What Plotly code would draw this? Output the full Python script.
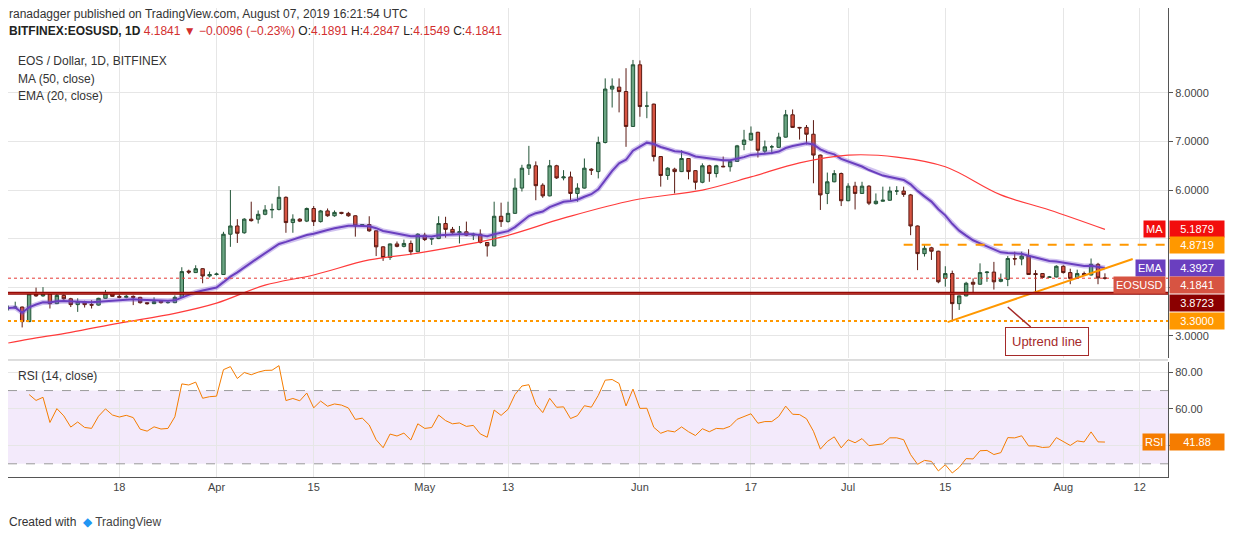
import plotly.graph_objects as go
import pandas as pd
import numpy as np

dates = pd.date_range("2019-03-02", periods=159, freq="D")
opens = [3.56,3.58,3.59,3.29,3.86,3.82,3.86,3.66,3.83,3.76,
3.64,3.70,3.64,3.63,3.77,3.87,3.81,3.79,3.81,3.79,
3.68,3.66,3.72,3.68,3.68,3.79,4.33,4.30,4.38,4.23,
4.26,4.26,5.09,5.26,5.12,5.40,5.40,5.50,5.59,5.60,
5.85,5.33,5.40,5.36,5.62,5.35,5.57,5.47,5.54,5.52,
5.47,5.26,5.29,5.16,4.83,4.61,4.89,4.84,4.90,4.73,
5.07,4.99,5.00,5.31,5.19,5.12,5.14,5.07,5.09,4.92,
4.85,5.46,5.35,5.52,6.04,6.45,6.50,6.10,5.88,6.50,
6.25,6.27,5.93,6.04,6.43,6.38,6.98,8.08,8.12,8.03,
7.31,8.58,7.73,7.77,6.69,6.30,6.43,6.38,6.65,6.40,
6.16,6.50,6.34,6.49,6.48,6.59,6.94,7.03,7.19,6.80,
6.89,6.88,7.09,7.55,7.29,7.29,7.15,6.72,5.93,6.17,
6.34,5.78,6.08,5.93,6.08,5.72,5.77,5.79,5.98,5.98,
5.90,5.26,4.69,4.81,4.74,4.18,4.28,3.66,3.82,4.10,
4.06,4.30,4.31,4.12,4.16,4.59,4.58,4.64,4.28,4.28,
4.20,4.21,4.43,4.30,4.19,4.28,4.25,4.47,4.1891]
closes = [3.57,3.59,3.29,3.86,3.82,3.86,3.66,3.83,3.76,3.64,
3.70,3.64,3.63,3.77,3.87,3.81,3.79,3.81,3.79,3.68,
3.66,3.70,3.68,3.685,3.79,4.32,4.31,4.38,4.23,4.26,
4.27,5.09,5.26,5.11,5.40,5.37,5.50,5.59,5.60,5.85,
5.33,5.40,5.36,5.62,5.35,5.57,5.47,5.54,5.52,5.47,
5.26,5.29,5.16,4.83,4.61,4.89,4.84,4.90,4.73,5.09,
4.98,5.00,5.31,5.19,5.12,5.14,5.07,5.09,4.92,4.85,
5.46,5.35,5.52,6.04,6.45,6.52,6.09,5.88,6.50,6.25,
6.27,5.93,6.04,6.45,6.41,6.98,8.08,8.14,8.03,7.31,
8.58,7.72,7.73,6.69,6.30,6.45,6.38,6.65,6.38,6.16,
6.50,6.34,6.50,6.48,6.59,6.91,7.03,7.17,6.82,6.89,
6.89,7.09,7.55,7.29,7.28,7.15,6.72,5.90,6.17,6.34,
5.78,6.08,5.93,6.08,5.73,5.77,5.79,5.98,5.98,5.91,
5.26,4.69,4.80,4.74,4.11,4.28,3.66,3.82,4.08,4.06,
4.30,4.31,4.11,4.16,4.59,4.58,4.64,4.26,4.26,4.20,
4.21,4.43,4.30,4.18,4.28,4.25,4.47,4.19,4.1841]
highs = [3.62,3.70,3.60,3.87,3.99,4.00,3.87,3.88,3.85,3.78,
3.77,3.72,3.73,3.78,3.94,3.90,3.85,3.84,3.83,3.80,
3.69,3.79,3.73,3.71,3.83,4.41,4.36,4.45,4.39,4.32,
4.30,5.14,6.00,5.40,5.42,5.76,5.58,5.69,5.72,6.08,
5.87,5.50,5.42,5.64,5.67,5.59,5.62,5.58,5.55,5.55,
5.48,5.30,5.46,5.17,4.84,4.90,4.94,4.98,4.96,5.11,
5.12,5.02,5.46,5.45,5.24,5.26,5.35,5.12,5.19,4.93,
5.76,5.74,5.76,6.24,6.52,6.91,6.59,6.14,6.62,6.52,
6.41,6.38,6.14,6.65,6.45,7.10,8.30,8.30,8.30,8.51,
8.68,8.67,8.03,7.78,6.70,6.47,6.46,6.82,6.66,6.41,
6.55,6.52,6.52,6.69,6.61,6.93,7.24,7.31,7.20,7.02,
6.93,7.18,7.65,7.66,7.30,7.34,7.44,6.73,6.36,6.41,
6.36,6.14,6.17,6.17,6.10,5.93,6.07,6.07,6.08,6.07,
5.92,5.27,4.87,4.83,4.75,4.43,4.34,3.83,4.11,4.18,
4.49,4.33,4.52,4.28,4.64,4.73,4.73,4.78,4.35,4.29,
4.23,4.45,4.45,4.38,4.36,4.32,4.59,4.50,4.2847]
lows = [3.52,3.55,3.17,3.28,3.80,3.80,3.56,3.65,3.74,3.59,
3.49,3.58,3.56,3.62,3.76,3.80,3.77,3.77,3.63,3.66,
3.64,3.65,3.66,3.66,3.67,3.78,4.27,4.29,4.08,4.20,
4.24,4.25,4.83,4.91,5.10,5.35,5.31,5.48,5.42,5.58,
5.12,5.12,5.34,5.34,5.26,5.33,5.45,5.45,5.50,5.45,
5.04,5.24,5.14,4.64,4.54,4.56,4.82,4.82,4.66,4.72,
4.95,4.87,4.99,5.02,5.10,4.90,5.05,4.97,4.90,4.63,
4.84,5.24,5.33,5.51,5.97,6.31,5.79,5.84,5.87,6.23,
6.20,5.79,5.76,6.03,6.31,6.24,6.96,7.70,7.60,6.89,
7.30,7.51,7.48,6.59,6.07,6.21,5.93,6.37,6.22,6.01,
6.14,6.17,6.26,6.47,6.38,6.58,6.82,7.02,6.67,6.74,
6.74,6.87,7.08,7.28,7.04,6.94,6.14,5.59,5.71,6.16,
5.67,5.77,5.60,5.92,5.69,5.70,5.76,5.78,5.90,5.86,
5.07,4.35,4.63,4.56,4.08,4.01,3.32,3.53,3.81,3.87,
4.05,4.11,3.95,4.10,4.02,4.45,4.45,4.25,3.90,4.18,
4.19,4.20,4.28,4.06,4.17,4.23,4.24,4.06,4.1549]

ma_dates = ["2019-03-02","2019-03-05","2019-03-11","2019-03-18","2019-03-26","2019-04-01",
            "2019-04-08","2019-04-15","2019-04-23","2019-04-30","2019-05-12","2019-05-21",
            "2019-05-31","2019-06-10","2019-06-17","2019-06-24","2019-07-01","2019-07-08",
            "2019-07-15","2019-07-23","2019-07-30","2019-08-07"]
ma_vals = [2.85,2.93,3.07,3.26,3.46,3.67,4.04,4.25,4.56,4.70,5.03,5.42,
           5.79,6.00,6.27,6.56,6.72,6.68,6.48,5.90,5.59,5.19]

support_level = 3.8723
resistance_level = 4.8719
low_level = 3.30
trend_dates = ["2019-07-15 08:00", "2019-08-11 00:00"]
trend_vals = [3.28, 4.58]

xticks = ["2019-03-18","2019-04-01","2019-04-15","2019-05-01","2019-05-13","2019-06-01",
          "2019-06-17","2019-07-01","2019-07-15","2019-08-01","2019-08-12"]
xticktext = ["18","Apr","15","May","13","Jun","17","Jul","15","Aug","12"]

cs = pd.Series(closes)
ema = cs.ewm(span=20, adjust=True).mean()
d = cs.diff()
up = d.clip(lower=0).ewm(alpha=1/14, adjust=True).mean()
dn = (-d.clip(upper=0)).ewm(alpha=1/14, adjust=True).mean()
rsi = 100 - 100/(1 + up/dn)
rsi.iloc[:3] = np.nan

FONT = "Liberation Sans"
xr = ["2019-03-01 23:00", "2019-08-16 02:00"]
fig = go.Figure()
fig.add_trace(go.Scatter(x=dates, y=ema, mode="lines", line=dict(color="rgba(120,80,210,0.35)", width=5),
                         hoverinfo="skip", xaxis="x", yaxis="y"))
fig.add_trace(go.Scatter(x=dates, y=ema, mode="lines", line=dict(color="#6a3fbf", width=2),
                         xaxis="x", yaxis="y"))
fig.add_trace(go.Scatter(x=pd.to_datetime(ma_dates), y=ma_vals, mode="lines", line=dict(color="#ff3b3b", width=1.2, shape="spline"),
                         xaxis="x", yaxis="y"))
fig.add_trace(go.Candlestick(x=dates, open=opens, high=highs, low=lows, close=closes,
    increasing=dict(fillcolor="#6ba583", line=dict(color="#225437", width=1)),
    decreasing=dict(fillcolor="#d75442", line=dict(color="#5b1a13", width=1)),
    whiskerwidth=0, xaxis="x", yaxis="y"))
fig.add_trace(go.Scatter(x=pd.to_datetime(trend_dates), y=trend_vals, mode="lines",
                         line=dict(color="#ff9800", width=2), xaxis="x", yaxis="y"))
fig.add_trace(go.Scatter(x=dates, y=rsi, mode="lines", line=dict(color="#f57c00", width=1),
                         xaxis="x2", yaxis="y2"))

shapes = [
    dict(type="rect", xref="paper", x0=0, x1=1, yref="y2", y0=30, y1=70, fillcolor="rgba(155,80,220,0.12)", line_width=0, layer="below"),
    dict(type="line", xref="paper", x0=0, x1=1, yref="y2", y0=70, y1=70, line=dict(color="#9a9a9a", width=1, dash="dash")),
    dict(type="line", xref="paper", x0=0, x1=1, yref="y2", y0=30, y1=30, line=dict(color="#9a9a9a", width=1, dash="dash")),
    dict(type="line", xref="paper", x0=0, x1=1, yref="y", y0=support_level, y1=support_level, line=dict(color="#8b0000", width=3)),
    dict(type="line", xref="paper", x0=0, x1=1, yref="y", y0=support_level, y1=support_level, line=dict(color="#c0392b", width=1)),
    dict(type="line", xref="paper", x0=0, x1=1, yref="y", y0=low_level, y1=low_level, line=dict(color="#ff9800", width=2, dash="dot")),
    dict(type="line", xref="x", x0="2019-07-09", x1=xr[1], yref="y", y0=resistance_level, y1=resistance_level, line=dict(color="#ff9800", width=2, dash="dash")),
    dict(type="line", xref="paper", x0=0, x1=1, yref="y", y0=closes[-1], y1=closes[-1], line=dict(color="#e53935", width=1, dash="dot")),
    dict(type="line", xref="paper", x0=0, x1=1, yref="paper", y0=0.2495, y1=0.2495, line=dict(color="#bbbbbb", width=1)),
]

def tag(y, text, bg, yref="y", fg="white"):
    return dict(xref="paper", x=1, xanchor="left", yref=yref, y=y, text=text, showarrow=False,
                bgcolor=bg, font=dict(color=fg, size=11, family=FONT), xshift=1, borderpad=2, width=50, align="center")

def lab(y, text, bg, yref="y"):
    return dict(xref="paper", x=1, xanchor="right", yref=yref, y=y, text=text, showarrow=False,
                bgcolor=bg, font=dict(color="white", size=11, family=FONT), xshift=-2, borderpad=2)

ann = [
    tag(5.1879, "5.1879", "#f20d0d"), lab(5.1879, "MA", "#f20d0d"),
    tag(4.8719, "4.8719", "#ff9800"),
    tag(4.3927, "4.3927", "#6a3fbf"), lab(4.3927, "EMA", "#6a3fbf"),
    tag(closes[-1] - 0.14, "4.1841", "#d75442"), lab(closes[-1] - 0.14, "EOSUSD", "#d75442"),
    tag(support_level - 0.19, "3.8723", "#8b0000"),
    tag(low_level, "3.3000", "#ff9800"),
    tag(41.88, "41.88", "#f57c00", yref="y2"), lab(41.88, "RSI", "#f57c00", yref="y2"),
    dict(xref="x", x="2019-07-24", yref="y", y=3.59, text="Uptrend line", showarrow=True,
         ax=39, ay=34, axref="pixel", arrowcolor="#a52a2a", arrowwidth=1.5, arrowhead=0,
         font=dict(color="#a52a2a", size=13, family=FONT), bgcolor="white", bordercolor="#a52a2a",
         borderwidth=1, borderpad=6, standoff=0),
    dict(xref="paper", yref="paper", x=-0.001, y=1.0, yanchor="top", xanchor="left", showarrow=False,
         yshift=3, text="ranadagger published on TradingView.com, August 07, 2019 16:21:54 UTC",
         font=dict(size=12, family=FONT, color="#333")),
    dict(xref="paper", yref="paper", x=-0.001, y=1.0, yanchor="top", xanchor="left", showarrow=False, yshift=-14,
         text="<b>BITFINEX:EOSUSD, 1D</b> <span style='color:#d32f2f'>4.1841 ▼ −0.0096 (−0.23%)</span> O:<span style='color:#d32f2f'>4.1891</span> H:<span style='color:#d32f2f'>4.2847</span> L:<span style='color:#d32f2f'>4.1549</span> C:<span style='color:#d32f2f'>4.1841</span>",
         font=dict(size=12, family=FONT, color="#222")),
    dict(xref="paper", yref="paper", x=0.007, y=1.0, yanchor="top", xanchor="left", showarrow=False, yshift=-44,
         text="EOS / Dollar, 1D, BITFINEX", font=dict(size=12, family=FONT, color="#333")),
    dict(xref="paper", yref="paper", x=0.007, y=1.0, yanchor="top", xanchor="left", showarrow=False, yshift=-62,
         text="MA (50, close)", font=dict(size=12, family=FONT, color="#333")),
    dict(xref="paper", yref="paper", x=0.007, y=1.0, yanchor="top", xanchor="left", showarrow=False, yshift=-79,
         text="EMA (20, close)", font=dict(size=12, family=FONT, color="#333")),
    dict(xref="paper", yref="paper", x=0.007, y=0.2452, yanchor="top", xanchor="left", showarrow=False, yshift=-5,
         text="RSI (14, close)", font=dict(size=12, family=FONT, color="#333")),
    dict(xref="paper", yref="paper", x=-0.001, y=-0.096, yanchor="middle", xanchor="left", showarrow=False,
         text="Created with  <span style='color:#2196f3'>◆</span> <span style='color:#444'>TradingView</span>",
         font=dict(size=12, family=FONT, color="#333")),
]

fig.update_layout(
    width=1226, height=532, margin=dict(l=0, r=66, t=0, b=63),
    paper_bgcolor="white", plot_bgcolor="white", showlegend=False,
    shapes=shapes, annotations=ann,
    xaxis=dict(range=xr, type="date", anchor="y", showticklabels=False, tickvals=xticks,
               showgrid=True, gridcolor="#e6e6e6", rangeslider=dict(visible=False), fixedrange=True),
    xaxis2=dict(range=xr, type="date", anchor="y2", tickvals=xticks, ticktext=xticktext,
                showgrid=True, gridcolor="#e6e6e6", showline=True, linecolor="#555", ticks="",
                tickfont=dict(size=11, family=FONT, color="#444")),
    yaxis=dict(domain=[0.2537, 1], range=[2.54, 9.75], side="right", tickvals=[3,4,5,6,7,8],
               ticktext=["3.0000","","","6.0000","7.0000","8.0000"], showgrid=True, gridcolor="#e6e6e6",
               showline=True, linecolor="#555", ticks="outside", ticklen=4, tickcolor="#555",
               tickfont=dict(size=11, family=FONT, color="#444"), zeroline=False),
    yaxis2=dict(domain=[0, 0.2452], range=[22.8, 85.6], side="right", tickvals=[40,60,80],
                ticktext=["","60.00","80.00"], showgrid=True, gridcolor="#e6e6e6",
                showline=True, linecolor="#555", ticks="outside", ticklen=4, tickcolor="#555",
                tickfont=dict(size=11, family=FONT, color="#444"), zeroline=False),
)
fig.write_html("out.html")
